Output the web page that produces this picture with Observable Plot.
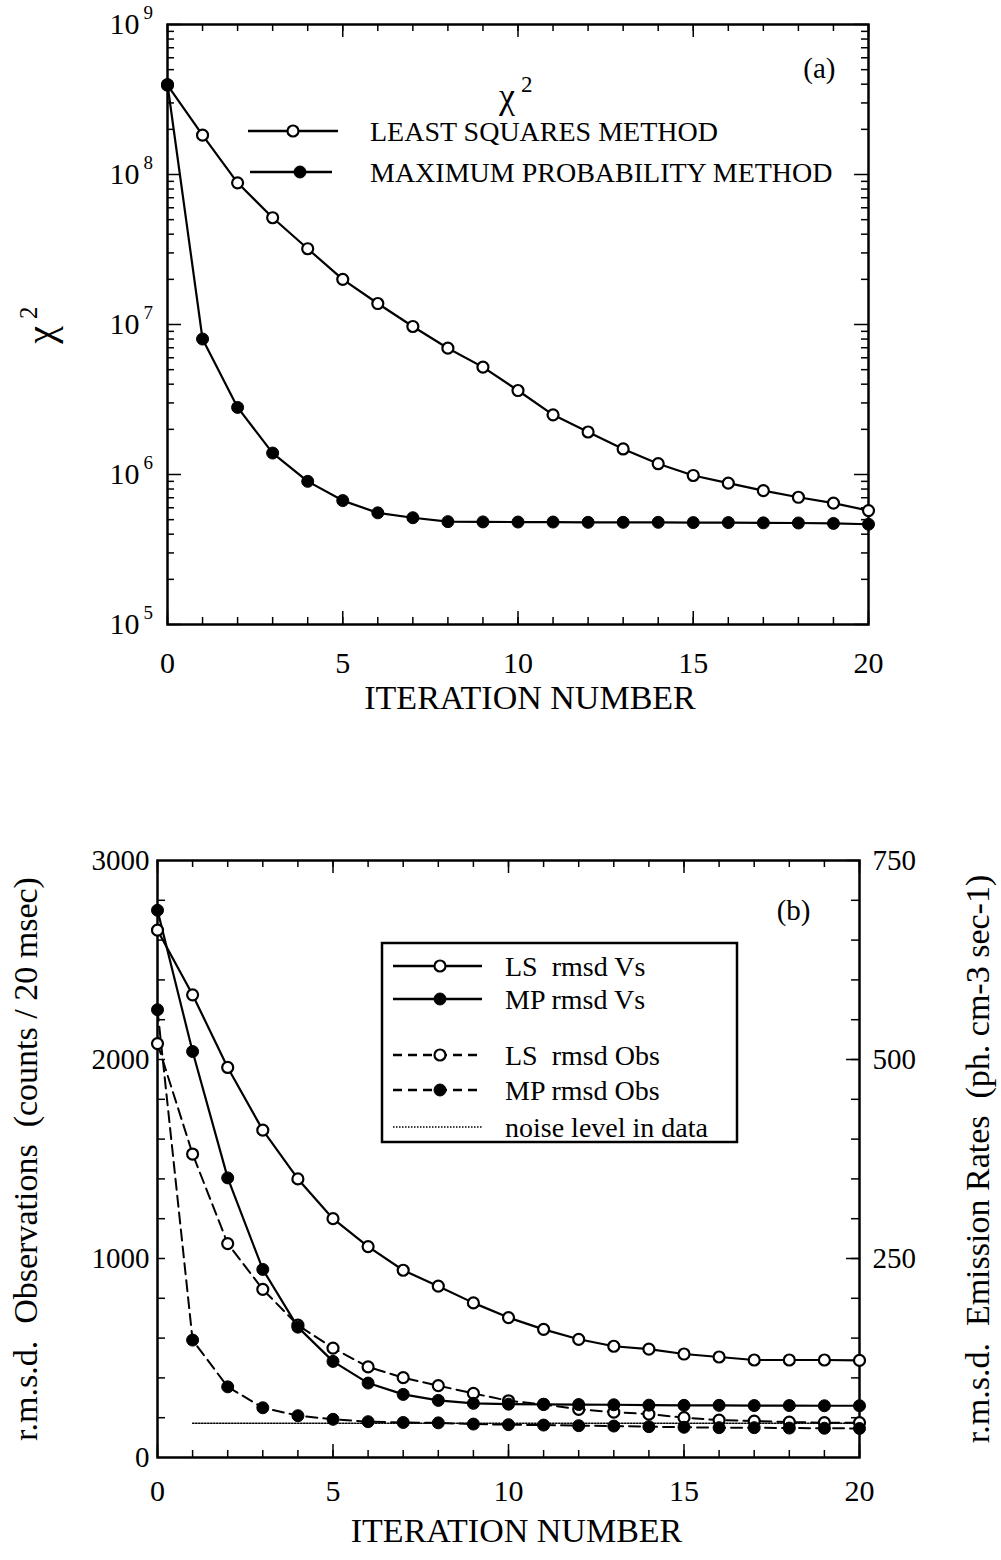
<!DOCTYPE html>
<html>
<head>
<meta charset="utf-8">
<script src="https://cdn.jsdelivr.net/npm/d3@7"></script>
<script src="https://cdn.jsdelivr.net/npm/@observablehq/plot@0.6"></script>
<style>
  html, body { margin: 0; padding: 0; background: #fff; }
  #chart { width: 1001px; height: 1560px; position: relative; background: #fff; }
  #chart svg { display: block; overflow: visible; }
</style>
</head>
<body>
<div id="chart"></div>
<script>
// ---------- data ----------
const iterations = [0, 1, 2, 3, 4, 5, 6, 7, 8, 9, 10, 11, 12, 13, 14, 15, 16, 17, 18, 19, 20];

// (a) chi-square per iteration
const chi2LeastSquares = [3.95e8, 1.83e8, 8.8e7, 5.15e7, 3.2e7, 2.0e7, 1.38e7, 9.7e6, 6.95e6, 5.2e6, 3.63e6,
  2.5e6, 1.92e6, 1.48e6, 1.18e6, 9.85e5, 8.75e5, 7.8e5, 7.05e5, 6.45e5, 5.75e5];
const chi2MaxProbability = [3.98e8, 8.0e6, 2.8e6, 1.39e6, 9.0e5, 6.7e5, 5.55e5, 5.15e5, 4.85e5, 4.83e5, 4.82e5,
  4.82e5, 4.8e5, 4.8e5, 4.8e5, 4.78e5, 4.78e5, 4.76e5, 4.75e5, 4.72e5, 4.66e5];

// (b) r.m.s.d. per iteration
const lsRmsdVs = [2650, 2325, 1960, 1645, 1400, 1200, 1060, 941, 861, 777, 703, 644, 594, 559, 545, 520, 505, 490, 490, 490, 488];
const mpRmsdVs = [2750, 2040, 1405, 945, 655, 483, 374, 317, 287, 272, 268, 267, 266, 265, 263, 262, 262, 261, 261, 260, 260];
const lsRmsdObs = [2080, 1525, 1075, 845, 665, 550, 455, 401, 361, 322, 285, 267, 242, 228, 218, 200, 188, 183, 178, 175, 175];
const mpRmsdObs = [2250, 590, 355, 250, 210, 192, 180, 176, 174, 168, 165, 163, 160, 158, 155, 152, 150, 150, 148, 147, 146];
const noiseLevel = 172;
const noiseIterations = [1, 20];

// ticks and labels
const xMajorTicks = [0, 5, 10, 15, 20];
const xMinorTicks = iterations;
const decades = [1e5, 1e6, 1e7, 1e8, 1e9];
const decadeExponents = ["5", "6", "7", "8", "9"];
const logMinorTicks = decades.slice(0, -1).flatMap(d => [2, 3, 4, 5, 6, 7, 8, 9].map(k => k * d));
const countTicks = [0, 1000, 2000, 3000];
const countMinorTicks = [200, 400, 600, 800, 1000, 1200, 1400, 1600, 1800, 2000, 2200, 2400, 2600, 2800];
const rateTicks = [1000, 2000, 3000]; // shown as emission rates (counts / 4)

const legendA = ["LEAST SQUARES METHOD", "MAXIMUM PROBABILITY METHOD"];
const legendB = ["LS  rmsd Vs", "MP rmsd Vs", "LS  rmsd Obs", "MP rmsd Obs", "noise level in data"];

const font = "'Liberation Serif', 'Times New Roman', Times, serif";
const W = 1001, H = 780;
const rows = arr => iterations.map((it, i) => ({it, v: arr[i]}));

// ---------- panel (a) ----------
const mA = {left: 167, right: 133, top: 24, bottom: 156};
const fwA = W - mA.left - mA.right, fhA = H - mA.top - mA.bottom;

const plotA = Plot.plot({
  width: W, height: H,
  marginLeft: mA.left, marginRight: mA.right, marginTop: mA.top, marginBottom: mA.bottom,
  style: {fontFamily: font, fontSize: "30px", color: "#000", background: "#fff", overflow: "visible"},
  x: {domain: [0, 20]},
  y: {type: "log", domain: [1e5, 1e9]},
  marks: [
    // inward ticks on all four sides
    Plot.tickX(xMinorTicks, {x: d => d, insetTop: fhA - 7, strokeWidth: 1.5}),
    Plot.tickX(xMajorTicks, {x: d => d, insetTop: fhA - 13, strokeWidth: 1.5}),
    Plot.tickX(xMinorTicks, {x: d => d, insetBottom: fhA - 7, strokeWidth: 1.5}),
    Plot.tickX(xMajorTicks, {x: d => d, insetBottom: fhA - 13, strokeWidth: 1.5}),
    Plot.tickY(logMinorTicks, {y: d => d, insetRight: fwA - 7, strokeWidth: 1.5}),
    Plot.tickY(decades, {y: d => d, insetRight: fwA - 14, strokeWidth: 1.5}),
    Plot.tickY(logMinorTicks, {y: d => d, insetLeft: fwA - 7, strokeWidth: 1.5}),
    Plot.tickY(decades, {y: d => d, insetLeft: fwA - 14, strokeWidth: 1.5}),
    Plot.frame({strokeWidth: 2.5}),
    Plot.axisX(xMajorTicks, {anchor: "bottom", tickSize: 0, tickPadding: 27, fontSize: 30, label: null}),
    Plot.axisY(decades, {anchor: "left", tickSize: 0, tickPadding: 28, fontSize: 30, tickFormat: () => "10", label: null}),
    Plot.text(decades, {y: d => d, frameAnchor: "left", dx: -24, dy: -12, textAnchor: "start",
      text: (d, i) => decadeExponents[i], fontSize: 19}),
    Plot.text(["ITERATION NUMBER"], {frameAnchor: "bottom", dx: 12, dy: 84, text: d => d, fontSize: 34}),
    Plot.text(["(a)"], {frameAnchor: "top-right", dx: -33, dy: 33, text: d => d, fontSize: 29}),
    // series
    Plot.line(rows(chi2LeastSquares), {x: "it", y: "v", strokeWidth: 2.2}),
    Plot.line(rows(chi2MaxProbability), {x: "it", y: "v", strokeWidth: 2.2}),
    Plot.dot(rows(chi2LeastSquares), {x: "it", y: "v", r: 5.5, fill: "#fff", stroke: "#000", strokeWidth: 2.2}),
    Plot.dot(rows(chi2MaxProbability), {x: "it", y: "v", r: 6, fill: "#000", stroke: "#000", strokeWidth: 1})
  ]
});

// ---------- panel (b) ----------
const mB = {left: 157, right: 142, top: 80, bottom: 103};
const fwB = W - mB.left - mB.right, fhB = H - mB.top - mB.bottom;
const dash = "11,6";

const plotB = Plot.plot({
  width: W, height: H,
  marginLeft: mB.left, marginRight: mB.right, marginTop: mB.top, marginBottom: mB.bottom,
  style: {fontFamily: font, fontSize: "29px", color: "#000", background: "#fff", overflow: "visible"},
  x: {domain: [0, 20]},
  y: {domain: [0, 3000]},
  marks: [
    Plot.tickX(xMinorTicks, {x: d => d, insetTop: fhB - 7, strokeWidth: 1.5}),
    Plot.tickX(xMajorTicks, {x: d => d, insetTop: fhB - 13, strokeWidth: 1.5}),
    Plot.tickX(xMinorTicks, {x: d => d, insetBottom: fhB - 7, strokeWidth: 1.5}),
    Plot.tickX(xMajorTicks, {x: d => d, insetBottom: fhB - 13, strokeWidth: 1.5}),
    Plot.tickY(countMinorTicks, {y: d => d, insetRight: fwB - 8, strokeWidth: 1.5}),
    Plot.tickY(countMinorTicks, {y: d => d, insetLeft: fwB - 8, strokeWidth: 1.5}),
    Plot.tickY(rateTicks, {y: d => d, insetLeft: fwB - 13, strokeWidth: 1.5}),
    Plot.frame({strokeWidth: 2.5}),
    Plot.axisX(xMajorTicks, {anchor: "bottom", tickSize: 0, tickPadding: 22, fontSize: 30, label: null}),
    Plot.axisY(countTicks, {anchor: "left", tickSize: 0, tickPadding: 8, fontSize: 29, label: null,
      tickFormat: d => String(d)}),
    Plot.axisY(rateTicks, {anchor: "right", tickSize: 0, tickPadding: 13, fontSize: 29, label: null,
      tickFormat: d => String(d / 4)}),
    Plot.text(["ITERATION NUMBER"], {frameAnchor: "bottom", dx: 8, dy: 84, text: d => d, fontSize: 34}),
    Plot.text(["r.m.s.d.  Observations  (counts / 20 msec)"], {frameAnchor: "left", dx: -131, rotate: -90,
      textAnchor: "middle", text: d => d, fontSize: 34}),
    Plot.text(["r.m.s.d.  Emission Rates  (ph. cm-3 sec-1)"], {frameAnchor: "right", dx: 119, rotate: -90,
      textAnchor: "middle", text: d => d, fontSize: 34}),
    Plot.text(["(b)"], {frameAnchor: "top-right", dx: -49, dy: 39, text: d => d, fontSize: 29}),
    // noise level
    Plot.line(noiseIterations.map(it => ({it, v: noiseLevel})), {x: "it", y: "v", strokeWidth: 1.4, strokeDasharray: "1.5,1.5"}),
    // observation misfit (dashed)
    Plot.line(rows(lsRmsdObs), {x: "it", y: "v", strokeWidth: 2, strokeDasharray: dash}),
    Plot.line(rows(mpRmsdObs), {x: "it", y: "v", strokeWidth: 2, strokeDasharray: dash}),
    // emission-rate misfit (solid)
    Plot.line(rows(lsRmsdVs), {x: "it", y: "v", strokeWidth: 2.2}),
    Plot.line(rows(mpRmsdVs), {x: "it", y: "v", strokeWidth: 2.2}),
    Plot.dot(rows(lsRmsdObs), {x: "it", y: "v", r: 5.5, fill: "#fff", stroke: "#000", strokeWidth: 2.2}),
    Plot.dot(rows(mpRmsdObs), {x: "it", y: "v", r: 6, fill: "#000", stroke: "#000", strokeWidth: 1}),
    Plot.dot(rows(lsRmsdVs), {x: "it", y: "v", r: 5.5, fill: "#fff", stroke: "#000", strokeWidth: 2.2}),
    Plot.dot(rows(mpRmsdVs), {x: "it", y: "v", r: 6, fill: "#000", stroke: "#000", strokeWidth: 1})
  ]
});

const chart = document.getElementById("chart");
chart.append(plotA, plotB);

// ---------- legends and symbol labels ----------
function legendRow(g, y, x0, x1, xm, filled, dashed, label, textX, size) {
  g.append("line").attr("x1", x0).attr("x2", x1).attr("y1", y).attr("y2", y)
    .attr("stroke", "#000").attr("stroke-width", 2.4)
    .attr("stroke-dasharray", dashed ? "9,6" : null);
  if (xm != null) {
    g.append("circle").attr("cx", xm).attr("cy", y).attr("r", filled ? 6 : 5.5)
      .attr("fill", filled ? "#000" : "#fff").attr("stroke", "#000").attr("stroke-width", filled ? 1 : 2.2);
  }
  g.append("text").attr("x", textX).attr("y", y).attr("dy", "0.35em")
    .attr("font-size", size).attr("fill", "#000").text(label);
}

{
  const g = d3.select(plotA).append("g").attr("font-family", font).attr("text-anchor", "start");
  // chi-square heading above the legend
  const t = g.append("text").attr("x", 499).attr("y", 108).attr("font-size", 36).attr("fill", "#000");
  t.append("tspan").text("χ");
  t.append("tspan").attr("dx", 6).attr("dy", -16).attr("font-size", 23).text("2");
  legendRow(g, 131, 248, 338, 293, false, false, legendA[0], 370, 28);
  legendRow(g, 172, 250, 332, 300, true, false, legendA[1], 370, 28);
  // y-axis title
  const yt = g.append("text").attr("transform", "translate(54,325) rotate(-90)")
    .attr("text-anchor", "middle").attr("font-size", 40).attr("fill", "#000");
  yt.append("tspan").text("χ");
  yt.append("tspan").attr("dx", 7).attr("dy", -17).attr("font-size", 25).text("2");
}

{
  const g = d3.select(plotB).append("g").attr("font-family", font).attr("text-anchor", "start");
  g.append("rect").attr("x", 382).attr("y", 163).attr("width", 355).attr("height", 199)
    .attr("fill", "#fff").attr("stroke", "#000").attr("stroke-width", 2.5);
  legendRow(g, 186, 393, 482, 440, false, false, legendB[0], 505, 28);
  legendRow(g, 219, 393, 482, 440, true, false, legendB[1], 505, 28);
  legendRow(g, 275, 393, 482, 440, false, true, legendB[2], 505, 28);
  legendRow(g, 310, 393, 482, 440, true, true, legendB[3], 505, 28);
  g.append("line").attr("x1", 393).attr("x2", 482).attr("y1", 347).attr("y2", 347)
    .attr("stroke", "#000").attr("stroke-width", 1.4).attr("stroke-dasharray", "1.5,1.5");
  g.append("text").attr("x", 505).attr("y", 347).attr("dy", "0.35em").attr("font-size", 28)
    .attr("fill", "#000").text(legendB[4]);
}
</script>
</body>
</html>
